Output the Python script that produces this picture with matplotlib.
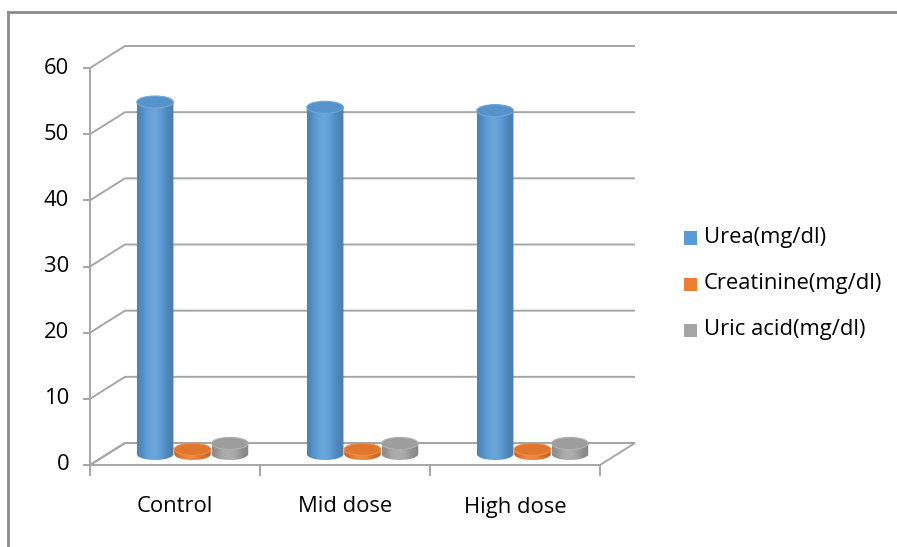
import numpy as np
import matplotlib
matplotlib.use("Agg")
import matplotlib.pyplot as plt
from matplotlib.patches import Ellipse, Polygon, PathPatch, Rectangle
from matplotlib.path import Path
from matplotlib.colors import to_rgb

# ---- data ----
categories = ["Control", "Mid dose", "High dose"]
series_names = ["Urea(mg/dl)", "Creatinine(mg/dl)", "Uric acid(mg/dl)"]
urea = [53.2, 52.4, 51.9]
creatinine = [0.7, 0.7, 0.7]
uric_acid = [1.6, 1.6, 1.6]
y_ticks = [0, 10, 20, 30, 40, 50, 60]

series_values = [urea, creatinine, uric_acid]
base_colors = ["#5b9bd5", "#ed7d31", "#a5a5a5"]

plt.rcParams["font.family"] = ["Open Sans", "DejaVu Sans"]
FS = 15.8

W, H = 897, 547
fig = plt.figure(figsize=(W / 100, H / 100), dpi=100)

# plot box in pixels (front-left origin at (90, 465); 170 px per category)
px0, py0 = 90, 465
px_per_cat = 170.0
px_per_unit = (465 - 68) / 60.0
ax_l, ax_r, ax_t, ax_b = 30, 660, 20, 500
ax = fig.add_axes([ax_l / W, 1 - ax_b / H, (ax_r - ax_l) / W, (ax_b - ax_t) / H])
xlim = ((ax_l - px0) / px_per_cat, (ax_r - px0) / px_per_cat)
ylim = ((py0 - ax_b) / px_per_unit, (py0 - ax_t) / px_per_unit)
ax.axis("off")

# depth offset of the back wall
dx = 35 / px_per_cat
dy = 22 / px_per_unit
ncat = len(categories)
ymax = y_ticks[-1]

grid_c = "#a6a6a6"
# floor
ax.add_patch(Polygon([(0, 0), (ncat, 0), (ncat + dx, dy), (dx, dy)], closed=True,
                     facecolor="white", edgecolor=grid_c, lw=1.4, zorder=1))
# gridlines: left wall diagonal + back wall line
for v in y_ticks:
    ax.plot([0, dx, ncat + dx], [v, v + dy, v + dy], color=grid_c, lw=1.4,
            solid_capstyle="butt", zorder=1)
# front value axis
ax.plot([0, 0], [0, ymax], color=grid_c, lw=1.4, zorder=2)
tick_len_x = 6 / px_per_cat
for v in y_ticks:
    ax.plot([-tick_len_x, 0], [v, v], color=grid_c, lw=1.4, zorder=2)
    ax.text(-21 / px_per_cat, v, str(v), ha="right", va="center", fontsize=FS,
            color="#000000")
# category axis ticks and labels
tick_len_y = 10 / px_per_unit
for i in range(ncat + 1):
    ax.plot([i, i], [0, -tick_len_y], color=grid_c, lw=1.4, zorder=2)
for i, c in enumerate(categories):
    ax.text(i + 0.5, -42 / px_per_unit, c, ha="center", va="center", fontsize=FS)


def shade(color, f):
    r, g, b = to_rgb(color)
    if f < 1:
        return (r * f, g * f, b * f)
    f = f - 1
    return (r + (1 - r) * f, g + (1 - g) * f, b + (1 - b) * f)


def cylinder(cx, base, top, half_w, ry, color, z):
    t = np.linspace(np.pi, 2 * np.pi, 40)
    xs = cx + half_w * np.cos(t)
    ys = base + ry * np.sin(t)
    verts = list(zip(xs, ys)) + [(cx + half_w, top), (cx - half_w, top), (xs[0], ys[0])]
    codes = [Path.MOVETO] + [Path.LINETO] * (len(verts) - 2) + [Path.CLOSEPOLY]
    body = PathPatch(Path(verts, codes), facecolor="none", edgecolor="none", zorder=z)
    ax.add_patch(body)
    # horizontal shading across the cylinder
    n = 64
    u = np.linspace(0, 1, n)
    prof = 0.80 + 0.30 * np.exp(-((u - 0.45) / 0.32) ** 2)
    grad = np.array([[shade(color, p) for p in prof]])
    im = ax.imshow(grad, extent=(cx - half_w, cx + half_w, base - ry, top),
                   aspect="auto", interpolation="bilinear", zorder=z)
    im.set_clip_path(body)
    # top face
    ax.add_patch(Ellipse((cx, top), 2 * half_w, 2 * ry, facecolor=shade(color, 0.95),
                         edgecolor=shade(color, 1.12), lw=0.8, zorder=z + 0.1))


bar_w = 0.22
ry = 6 / px_per_unit
for s, vals in enumerate(series_values):
    for i, v in enumerate(vals):
        cx = i + 0.5 + dx / 2 + (s - 1) * bar_w
        base = dy / 2
        cylinder(cx, base, base + v, bar_w / 2 * 0.98, ry, base_colors[s], 3 + i * 0.01 + s * 0.001)

ax.set_xlim(*xlim)
ax.set_ylim(*ylim)

# legend
leg_y = [238, 284, 330]
for name, col, yp in zip(series_names, base_colors, leg_y):
    fig.patches.append(Rectangle((684 / W, 1 - (yp + 6.5) / H), 13 / W, 13 / H,
                                 transform=fig.transFigure, facecolor=col,
                                 edgecolor="none", figure=fig))
    fig.text(704 / W, 1 - yp / H, name, ha="left", va="center", fontsize=FS)

# chart frame
fig.add_artist(plt.Line2D([8 / W, 8 / W], [0, 1 - 12 / H], transform=fig.transFigure,
                          color="#8c8c8c", lw=2))
fig.add_artist(plt.Line2D([8 / W, 1], [1 - 12 / H, 1 - 12 / H], transform=fig.transFigure,
                          color="#8c8c8c", lw=2))

fig.savefig("out.png", dpi=100)
